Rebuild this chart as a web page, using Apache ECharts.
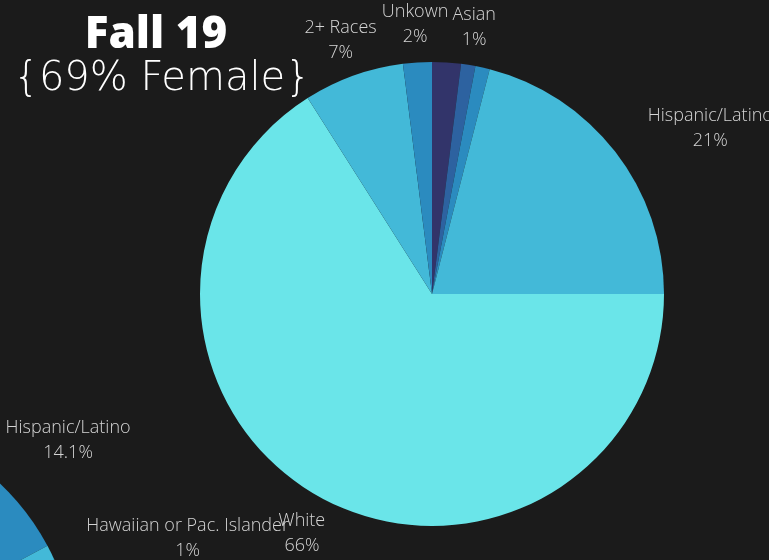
<!DOCTYPE html>
<html>
<head>
<meta charset="utf-8">
<script src="https://cdn.jsdelivr.net/npm/echarts@6/dist/echarts.min.js"></script>
<style>
  html, body { margin: 0; padding: 0; background: #1b1b1b; }
  #chart { width: 769px; height: 560px; }
</style>
</head>
<body>
<div id="chart"></div>
<script>
// Fall 19 enrollment by race / ethnicity (clockwise from 12 o'clock)
const fallNames = ['Black/African American', 'Asian', 'American Indian', 'Hispanic/Latino', 'White', '2+ Races', 'Unkown']
const fallValues = [2, 1, 1, 21, 66, 7, 2]

// previous term pie, mostly off the page at bottom-left
const prevNames = ['Hispanic/Latino', 'Hawaiian or Pac. Islander', 'White', '2+ Races', 'Unkown', 'Asian', 'Black/African American']
const prevValues = [14.1, 1, 72, 6, 3.4, 1.5, 2]

const fallColors = ['#32346a', '#2d62a0', '#2b8bbf', '#43b9d8', '#6ae5e9', '#43b9d8', '#2b8bbf']
const prevColors = ['#2b8bbf', '#43b9d8', '#6ae5e9', '#43b9d8', '#2b8bbf', '#2d62a0', '#32346a']

// labels that are not drawn
const fallHidden = ['Black/African American', 'American Indian']
const prevHidden = ['White', '2+ Races', 'Unkown', 'Asian', 'Black/African American']
// small label nudges
const fallNudge = { 'Hispanic/Latino': [65, 0], 'White': [0, 3] }
const prevNudge = { 'Hispanic/Latino': [42, 41], 'Hawaiian or Pac. Islander': [64, 22] }

const labelStyle = {
  position: 'inside',
  color: '#d4d4d4',
  fontFamily: 'Open Sans',
  fontWeight: 300,
  fontSize: 18,
  lineHeight: 25,
  formatter: '{b}\n{c}%'
}

const toData = (names, values, colors) =>
  names.map((n, i) => ({ name: n, value: values[i], itemStyle: { color: colors[i] } }))

// transparent ring, its inside labels sit just outside the pie
const toLabelData = (names, values, nudge, hidden) =>
  names.map((n, i) => ({
    name: n,
    value: values[i],
    label: { show: !hidden.includes(n), offset: nudge[n] || [0, 0] }
  }))

const pie = (center, radius, startAngle, data) => ({
  type: 'pie',
  center: center,
  radius: radius,
  startAngle: startAngle,
  silent: true,
  avoidLabelOverlap: false,
  labelLayout: { hideOverlap: false },
  label: { show: false },
  labelLine: { show: false },
  itemStyle: { borderWidth: 0 },
  data: data
})

const labelRing = (center, radius, startAngle, data) => Object.assign(pie(center, radius, startAngle, data), {
  label: labelStyle,
  itemStyle: { color: 'rgba(0,0,0,0)', borderWidth: 0 }
})

const chart = echarts.init(document.getElementById('chart'))

chart.setOption({
  backgroundColor: '#1b1b1b',
  animation: false,
  title: [
    {
      text: 'Fall 19',
      left: 151,
      top: 8,
      textAlign: 'center',
      textStyle: { color: '#ffffff', fontFamily: 'Open Sans', fontWeight: 800, fontSize: 44 }
    },
    {
      text: '{69% Female}',
      left: 157,
      top: 55,
      textAlign: 'center',
      textStyle: { color: '#ffffff', fontFamily: 'DejaVu Sans', fontWeight: 200, fontSize: 40 }
    }
  ],
  series: [
    pie([432, 294], 232, 90, toData(fallNames, fallValues, fallColors)),
    labelRing([432, 294], [232, 302], 90, toLabelData(fallNames, fallValues, fallNudge, fallHidden)),
    pie([-167, 660], 243, 78.8, toData(prevNames, prevValues, prevColors)),
    labelRing([-167, 660], [243, 399], 78.8, toLabelData(prevNames, prevValues, prevNudge, prevHidden))
  ]
})
</script>
</body>
</html>
